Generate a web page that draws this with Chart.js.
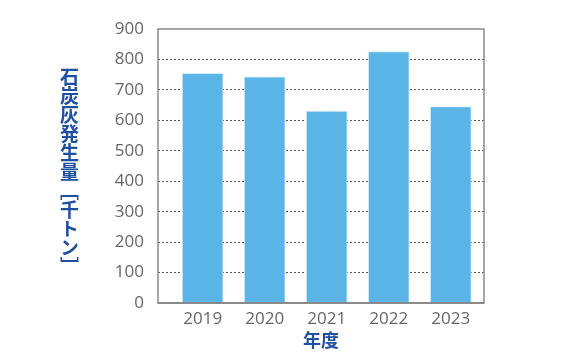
<!DOCTYPE html>
<html>
<head>
<meta charset="utf-8">
<script src="https://cdn.jsdelivr.net/npm/chart.js@4/dist/chart.umd.min.js"></script>
<style>
  html, body { margin: 0; padding: 0; background: #fff; }
  #wrap { position: relative; width: 580px; height: 360px; }
  #ytitle {
    position: absolute; left: 59px; top: 67px;
    writing-mode: vertical-rl; text-orientation: upright;
    font-family: "Noto Sans CJK JP", sans-serif; font-weight: 700;
    font-size: 19px; line-height: 20px; color: #1E4FA3; white-space: nowrap;
  }
</style>
</head>
<body>
<div id="wrap">
  <canvas id="c" width="580" height="360"></canvas>
  <div id="ytitle">石炭灰発生量［千トン］</div>
</div>
<script>
const years = [2019, 2020, 2021, 2022, 2023];
const ashValues = [754, 743, 630, 826, 645];
const yTicks = [0, 100, 200, 300, 400, 500, 600, 700, 800, 900];
const xTitle = '年度';

const frame = {
  id: 'frame',
  afterDatasetsDraw(chart) {
    const a = chart.chartArea, ctx = chart.ctx;
    ctx.save();
    ctx.strokeStyle = '#8a8a8a';
    ctx.lineWidth = 1.5;
    ctx.strokeRect(a.left, a.top, a.right - a.left, a.bottom - a.top);
    ctx.beginPath();
    ctx.lineWidth = 2;
    ctx.moveTo(a.left, a.bottom);
    ctx.lineTo(a.right, a.bottom);
    ctx.stroke();
    ctx.restore();
  }
};

new Chart(document.getElementById('c'), {
  type: 'bar',
  data: {
    datasets: [{
      data: years.map((y, i) => ({ x: y, y: ashValues[i] })),
      backgroundColor: '#5BB4E6',
      borderColor: '#CDEBFA',
      borderWidth: 1,
      barThickness: 41
    }]
  },
  options: {
    responsive: false,
    animation: false,
    layout: { padding: { left: 0, right: 96, top: 29, bottom: 0 } },
    plugins: { legend: { display: false }, tooltip: { enabled: false } },
    scales: {
      x: {
        type: 'linear',
        offset: false,
        min: 2018.28,
        max: 2023.535,
        afterBuildTicks(scale) { scale.ticks = years.map(v => ({ value: v })); },
        afterFit(scale) { scale.height = 57; },
        ticks: {
          callback: v => String(v),
          color: '#666',
          font: { family: 'Open Sans', size: 17 },
          padding: 6,
          maxRotation: 0,
          autoSkip: false
        },
        grid: { display: false, drawTicks: false, offset: false },
        border: { display: false },
        title: {
          display: true,
          text: xTitle,
          color: '#1E4FA3',
          font: { family: 'Noto Sans CJK JP', size: 18, weight: 'bold' },
          padding: { top: 0, bottom: 9 }
        }
      },
      y: {
        min: 0,
        max: 900,
        afterBuildTicks(scale) { scale.ticks = yTicks.map(v => ({ value: v })); },
        afterFit(scale) { scale.width = 158; },
        ticks: {
          color: '#666',
          font: { family: 'Open Sans', size: 17 },
          padding: 14
        },
        grid: {
          drawTicks: false,
          color: ctx => (ctx.tick && (ctx.tick.value === 0 || ctx.tick.value === 900)) ? 'rgba(0,0,0,0)' : '#555',
          lineWidth: 1
        },
        border: { display: false, dash: [2, 2] }
      }
    }
  },
  plugins: [frame]
});
</script>
</body>
</html>
